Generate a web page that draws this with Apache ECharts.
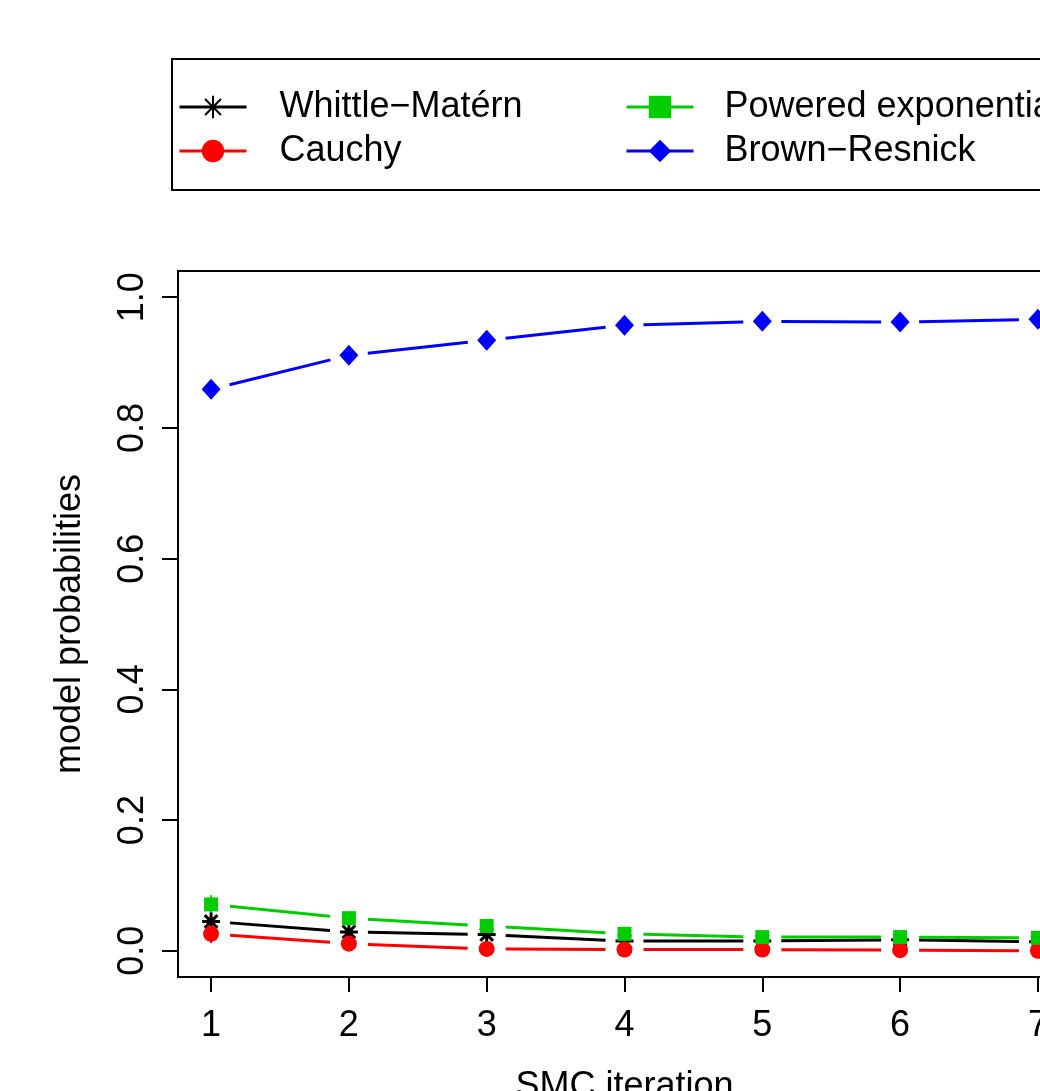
<!DOCTYPE html>
<html>
<head>
<meta charset="utf-8">
<script src="https://cdn.jsdelivr.net/npm/echarts@6/dist/echarts.min.js"></script>
<style>
  html, body { margin: 0; padding: 0; background: #ffffff; }
  #chart { width: 1040px; height: 1091px; }
</style>
</head>
<body>
<div id="chart"></div>
<script>
// SMC iterations and posterior model probabilities
const iterations = [1, 2, 3, 4, 5, 6, 7];
const whittleMatern = [0.045, 0.029, 0.025, 0.015, 0.015, 0.017, 0.014];
const cauchy = [0.026, 0.011, 0.003, 0.002, 0.002, 0.001, 0.000];
const poweredExponential = [0.071, 0.050, 0.038, 0.026, 0.021, 0.021, 0.020];
const brownResnick = [0.859, 0.911, 0.934, 0.957, 0.963, 0.962, 0.966];
// half-width of the variability bars
const poweredExponentialSpread = [0.014, 0.009, 0.006, 0.004, 0.003, 0.003, 0.003];
const cauchySpread = [0.014, 0.010, 0.004, 0.002, 0.002, 0.002, 0.002];
const xTicks = [1, 2, 3, 4, 5, 6, 7];
const yTicks = [0, 0.2, 0.4, 0.6, 0.8, 1.0];
const seriesNames = ['Whittle\u2212Mat\u00e9rn', 'Cauchy', 'Powered exponential', 'Brown\u2212Resnick'];

const FONT = '"Liberation Sans", Arial, Helvetica, sans-serif';
const STAR = 'path://M0,-1L0,1M-1,0L1,0M-0.707,-0.707L0.707,0.707M-0.707,0.707L0.707,-0.707';

const defs = [
  { name: seriesNames[0], ys: whittleMatern, color: '#000000', symbol: STAR, size: 18, star: true },
  { name: seriesNames[1], ys: cauchy, color: '#FF0000', symbol: 'circle', size: 16 },
  { name: seriesNames[2], ys: poweredExponential, color: '#00CD00', symbol: 'rect', size: 14 },
  { name: seriesNames[3], ys: brownResnick, color: '#0000FF', symbol: 'diamond', size: [19, 21] }
];

// line segments between points, leaving a gap around each marker
function segmentSeries(d, z) {
  const data = [];
  for (let i = 0; i < d.ys.length - 1; i++) {
    data.push([iterations[i], d.ys[i], iterations[i + 1], d.ys[i + 1]]);
  }
  return {
    type: 'custom',
    silent: true,
    z: z,
    data: data,
    encode: { x: [0, 2], y: [1, 3] },
    renderItem: function (params, api) {
      const a = api.coord([api.value(0), api.value(1)]);
      const b = api.coord([api.value(2), api.value(3)]);
      const dx = b[0] - a[0], dy = b[1] - a[1];
      const len = Math.hypot(dx, dy);
      const gap = 19;
      if (len <= 2 * gap) return null;
      const ux = dx / len, uy = dy / len;
      return {
        type: 'line',
        shape: { x1: a[0] + ux * gap, y1: a[1] + uy * gap, x2: b[0] - ux * gap, y2: b[1] - uy * gap },
        style: { stroke: d.color, lineWidth: 3 }
      };
    }
  };
}

// vertical variability bars
function spreadSeries(ys, spread, color, z) {
  return {
    type: 'custom',
    silent: true,
    z: z,
    data: ys.map((v, i) => [iterations[i], v - spread[i], v + spread[i]]),
    encode: { x: 0, y: [1, 2] },
    renderItem: function (params, api) {
      const lo = api.coord([api.value(0), api.value(1)]);
      const hi = api.coord([api.value(0), api.value(2)]);
      return {
        type: 'line',
        shape: { x1: lo[0], y1: lo[1], x2: hi[0], y2: hi[1] },
        style: { stroke: color, lineWidth: 2 }
      };
    }
  };
}

// markers only; the connecting segments come from segmentSeries
function markerSeries(d, z) {
  return {
    name: d.name,
    type: 'line',
    z: z,
    silent: true,
    data: d.ys.map((v, i) => [iterations[i], v]),
    symbol: d.symbol,
    symbolSize: d.size,
    showSymbol: true,
    lineStyle: { width: 1, color: 'rgba(0,0,0,0)', opacity: 0 },
    itemStyle: d.star
      ? { color: d.color, borderColor: d.color, borderWidth: 3 }
      : { color: d.color, borderWidth: 0 },
    emphasis: { disabled: true },
    animation: false
  };
}

const series = [];
series.push(spreadSeries(poweredExponential, poweredExponentialSpread, '#00CD00', 2));
series.push(spreadSeries(cauchy, cauchySpread, '#FF0000', 2));
defs.forEach((d, i) => {
  series.push(segmentSeries(d, 3 + i));
  series.push(markerSeries(d, 3 + i));
});

function legendItem(d) {
  return { name: d.name, lineStyle: { color: d.color, width: 3, opacity: 1 } };
}

const legendCommon = {
  orient: 'vertical',
  top: 85,
  padding: 0,
  itemWidth: 67,
  itemHeight: 28,
  itemGap: 0,
  selectedMode: false,
  textStyle: { fontFamily: FONT, fontSize: 36, color: '#000', lineHeight: 44, padding: [0, 0, 0, 28] }
};

const chart = echarts.init(document.getElementById('chart'), null, { renderer: 'canvas' });
chart.setOption({
  animation: false,
  backgroundColor: '#ffffff',
  textStyle: { fontFamily: FONT },
  grid: {
    left: 178, top: 271, width: 893, height: 706,
    outerBoundsMode: 'none',
    containLabel: false,
    show: true, borderColor: '#000', borderWidth: 2, backgroundColor: 'transparent'
  },
  legend: [
    Object.assign({}, legendCommon, { left: 178, data: [legendItem(defs[0]), legendItem(defs[1])] }),
    Object.assign({}, legendCommon, { left: 625,
      textStyle: Object.assign({}, legendCommon.textStyle, { padding: [0, 0, 0, 26] }),
      data: [legendItem(defs[2]), legendItem(defs[3])] })
  ],
  graphic: [{
    type: 'rect',
    shape: { x: 172, y: 59, width: 1000, height: 131 },
    style: { fill: 'none', stroke: '#000', lineWidth: 2 },
    silent: true, z: 0
  }],
  xAxis: {
    type: 'value',
    min: 0.76, max: 7.24,
    name: 'SMC iteration',
    nameLocation: 'middle',
    nameGap: 92,
    nameTextStyle: { fontFamily: FONT, fontSize: 36, color: '#000' },
    axisLine: { show: false, onZero: false },
    splitLine: { show: false },
    axisTick: { show: true, inside: false, length: 15, lineStyle: { color: '#000', width: 2 }, customValues: xTicks },
    axisLabel: { fontFamily: FONT, fontSize: 36, color: '#000', margin: 31, customValues: xTicks,
      formatter: v => String(v) }
  },
  yAxis: {
    type: 'value',
    min: -0.04, max: 1.04,
    name: 'model probabilities',
    nameLocation: 'middle',
    nameRotate: 90,
    nameGap: 90,
    nameTextStyle: { fontFamily: FONT, fontSize: 36, color: '#000' },
    axisLine: { show: false, onZero: false },
    splitLine: { show: false },
    axisTick: { show: true, inside: false, length: 16, lineStyle: { color: '#000', width: 2 }, customValues: yTicks },
    axisLabel: { fontFamily: FONT, fontSize: 36, color: '#000', margin: 27, rotate: 90,
      customValues: yTicks, formatter: v => v.toFixed(1) }
  },
  series: series
});
</script>
</body>
</html>
